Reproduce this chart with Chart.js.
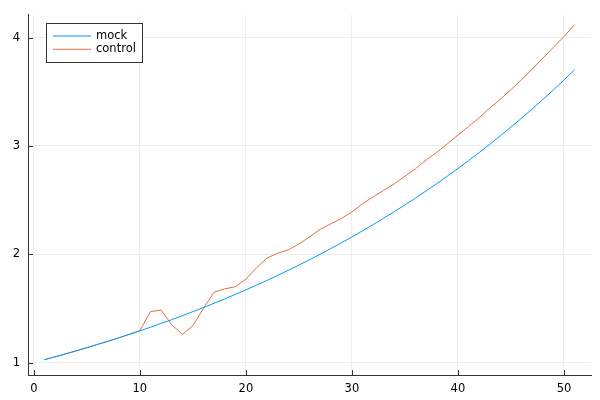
<!DOCTYPE html>
<html>
<head>
<meta charset="utf-8">
<script src="https://cdn.jsdelivr.net/npm/chart.js@4.4.1/dist/chart.umd.min.js"></script>
<style>
  html, body { margin: 0; padding: 0; background: #fff; }
</style>
</head>
<body>
<canvas id="plot" width="600" height="400"></canvas>
<script>
const xs = [1, 2, 3, 4, 5, 6, 7, 8, 9, 10, 11, 12, 13, 14, 15, 16, 17, 18, 19, 20,
    21, 22, 23, 24, 25, 26, 27, 28, 29, 30, 31, 32, 33, 34, 35, 36, 37, 38, 39, 40,
    41, 42, 43, 44, 45, 46, 47, 48, 49, 50, 51];
const mock = [1.026, 1.053, 1.080, 1.108, 1.137, 1.167, 1.197, 1.228, 1.260, 1.293,
    1.326, 1.361, 1.396, 1.432, 1.470, 1.508, 1.547, 1.587, 1.629, 1.671,
    1.714, 1.759, 1.805, 1.852, 1.900, 1.949, 2.000, 2.052, 2.105, 2.160,
    2.216, 2.274, 2.333, 2.393, 2.456, 2.519, 2.585, 2.652, 2.721, 2.792,
    2.864, 2.939, 3.015, 3.094, 3.174, 3.257, 3.341, 3.428, 3.517, 3.609, 3.703];
const control = [1.026, 1.053, 1.080, 1.108, 1.137, 1.167, 1.197, 1.228, 1.260, 1.293,
    1.470, 1.485, 1.350, 1.260, 1.340, 1.500, 1.650, 1.680, 1.700, 1.770,
    1.875, 1.965, 2.010, 2.040, 2.095, 2.160, 2.230, 2.280, 2.330, 2.390,
    2.465, 2.530, 2.590, 2.650, 2.720, 2.790, 2.870, 2.940, 3.020, 3.100,
    3.180, 3.260, 3.350, 3.430, 3.520, 3.610, 3.710, 3.810, 3.910, 4.010, 4.120];
const seriesNames = ['mock', 'control'];
const seriesColors = ['#009af9', '#e26f46'];
const xTicks = [0, 10, 20, 30, 40, 50];
const yTicks = [1, 2, 3, 4];

const FONT = 'DejaVu Sans';

// inward tick marks + boxed legend, like the Plots.jl/GR look
const plotDecor = {
    id: 'plotDecor',
    afterDraw(chart) {
        const c = chart.ctx;
        const area = chart.chartArea;
        const sx = chart.scales.x, sy = chart.scales.y;
        c.save();
        c.strokeStyle = '#333';
        c.lineWidth = 1;
        c.beginPath();
        xTicks.forEach(v => {
            const px = Math.round(sx.getPixelForValue(v)) + 0.5;
            c.moveTo(px, area.bottom);
            c.lineTo(px, area.bottom - 5);
        });
        yTicks.forEach(v => {
            const py = Math.round(sy.getPixelForValue(v)) + 0.5;
            c.moveTo(area.left, py);
            c.lineTo(area.left + 5, py);
        });
        c.stroke();

        // legend
        const lx = 46.5, ly = 23.5, lw = 96, lh = 39;
        c.fillStyle = '#fff';
        c.fillRect(lx, ly, lw, lh);
        c.strokeStyle = '#333';
        c.strokeRect(lx, ly, lw, lh);
        c.font = '11.5px "' + FONT + '"';
        c.textBaseline = 'middle';
        chart.data.datasets.forEach((ds, i) => {
            const y = 36 + i * 13.3;
            c.strokeStyle = ds.borderColor;
            c.beginPath();
            c.moveTo(53, y);
            c.lineTo(91, y);
            c.stroke();
            c.fillStyle = '#000';
            c.fillText(ds.label, 96, y);
        });
        c.restore();
    }
};

const ctx = document.getElementById('plot').getContext('2d');

new Chart(ctx, {
    type: 'line',
    data: {
        datasets: [mock, control].map((vals, i) => ({
            label: seriesNames[i],
            data: xs.map((x, j) => ({ x: x, y: vals[j] })),
            borderColor: seriesColors[i],
            borderWidth: 1,
            pointRadius: 0,
            tension: 0,
            fill: false
        }))
    },
    options: {
        responsive: false,
        animation: false,
        devicePixelRatio: 1,
        layout: { padding: { top: 10, right: 9, left: 0, bottom: 0 } },
        plugins: {
            legend: { display: false },
            tooltip: { enabled: false }
        },
        scales: {
            x: {
                type: 'linear',
                min: -0.55,
                max: 52.55,
                afterBuildTicks: s => { s.ticks = xTicks.map(v => ({ value: v })); },
                afterFit: s => { s.height = 25; },
                ticks: { padding: 7, color: '#000', font: { family: FONT, size: 11.5 } },
                grid: { color: '#ededed', drawTicks: false },
                border: { color: '#333', width: 1 }
            },
            y: {
                min: 0.885,
                max: 4.21,
                afterBuildTicks: s => { s.ticks = yTicks.map(v => ({ value: v })); },
                afterFit: s => { s.width = 28; },
                ticks: { padding: 8, color: '#000', font: { family: FONT, size: 11.5 } },
                grid: { color: '#ededed', drawTicks: false },
                border: { color: '#333', width: 1 }
            }
        }
    },
    plugins: [plotDecor]
});
</script>
</body>
</html>
